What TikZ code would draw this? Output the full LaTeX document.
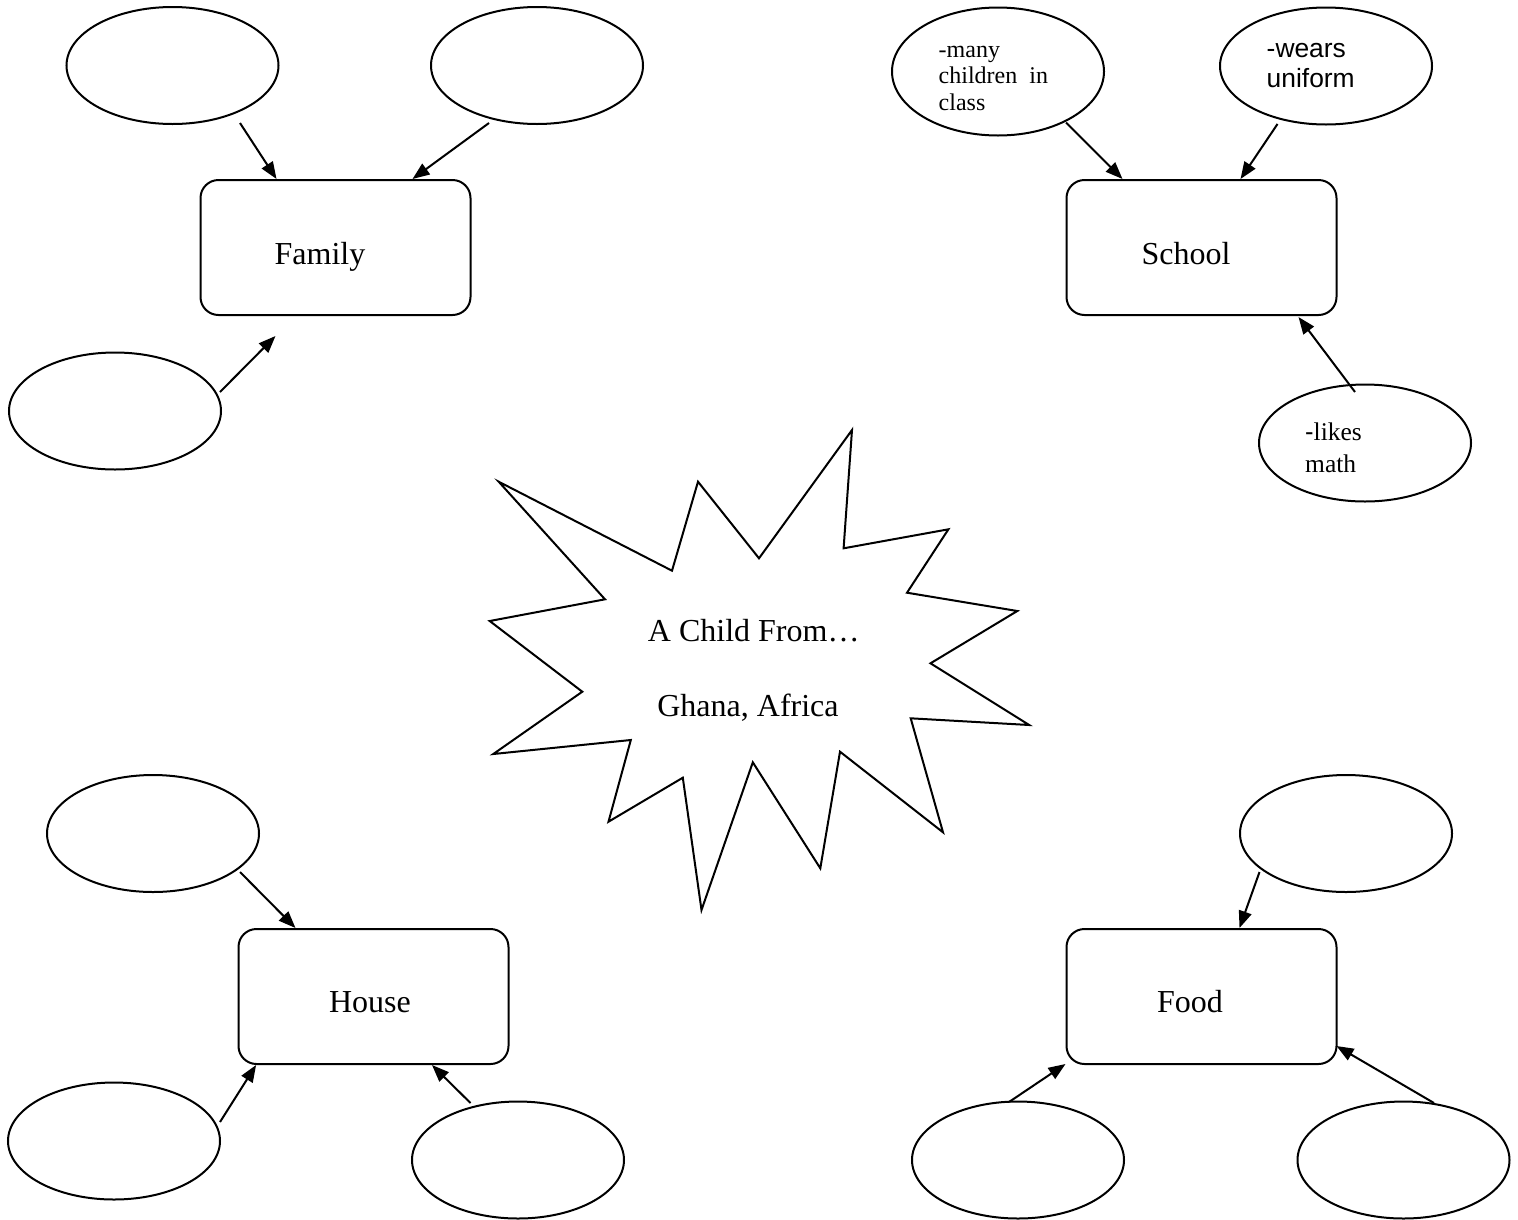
\documentclass[tikz,border=0pt]{standalone}
\usepackage{fontspec}
\setmainfont{Liberation Serif}
\newfontfamily\arialf{Liberation Sans}
\usetikzlibrary{shapes.geometric,arrows.meta,calc}
\tikzset{
  bubble/.style={ellipse, draw, line width=2pt, minimum width=212pt, minimum height=117pt, inner sep=0pt},
  topic/.style={draw, rounded corners=18pt, line width=2pt, minimum width=270pt, minimum height=135pt, inner sep=0pt},
  conn/.style={line width=2pt, -{Triangle[length=17pt,width=13pt]}},
  biglbl/.style={inner sep=0pt, anchor=base, font=\fontsize{32}{38}\selectfont},
  notelbl/.style={inner sep=0pt, anchor=base west},
  burst/.style={draw, line width=2pt, line join=miter}
}
\begin{document}
\begin{tikzpicture}[x=1pt,y=-1pt]
\useasboundingbox (0,0) rectangle (1518,1219);
\fill[white] (0,0) rectangle (1518,1219);

% ---------- Family ----------
\node[topic] (fam) at (335.5,247.5) {};
\node[biglbl] (famt) at (320,264) {Family};
\node[bubble] (fTL) at (172.5,65.5) {};
\node[bubble] (fTR) at (537,65.5) {};
\node[bubble] (fBL) at (115,411) {};
\draw[conn] ($(fTL.center)+(67.5,57.5)$) -- ($(fam.north west)+(77,0)$);
\draw[conn] ($(fTR.center)+(-48,57.5)$) -- ($(fam.north west)+(213,0)$);
\draw[conn] ($(fBL.center)+(105,-19)$) -- ($(fam.south west)+(76,20)$);

% ---------- School ----------
\node[topic] (sch) at (1201.5,247.5) {};
\node[biglbl] (scht) at (1186,264) {School};
\node[bubble, minimum height=128pt] (sTL) at (998,71.5) {};
\node[bubble] (sTR) at (1326,66) {};
\node[bubble] (sBR) at (1365,443) {};
\node[notelbl] (sTLt) at (938.5,57) {\fontsize{24}{26.5}\selectfont\vtop{\hbox{-many}\hbox{children\ \ in}\hbox{class}}};
\node[notelbl] (sTRt) at (1266.5,57) {\arialf\fontsize{26.4}{30.5}\selectfont\vtop{\hbox{-wears}\hbox{uniform}}};
\node[notelbl] (sBRt) at (1305,440) {\fontsize{25.5}{32}\selectfont\vtop{\hbox{{\arialf -}likes}\hbox{math}}};
\draw[conn] ($(sTL.center)+(68,51)$) -- ($(sch.north west)+(57,0)$);
\draw[conn] ($(sTR.center)+(-48.5,58)$) -- ($(sch.north west)+(175,0)$);
\draw[conn] ($(sBR.center)+(-10,-51)$) -- ($(sch.south west)+(233,1)$);

% ---------- Centre burst ----------
\draw[burst] (498.7,481.7) -- (672,570.7) -- (698,481.7) -- (759,558.3) -- (852,430)
  -- (843.6,548.3) -- (948.4,529.3) -- (907,592.7) -- (1017.3,611) -- (930.5,663.3)
  -- (1029.2,725) -- (910.7,718.3) -- (943,832.3) -- (840,751.7) -- (820.3,868.3)
  -- (752.8,762.3) -- (701.5,910) -- (682.8,777.7) -- (608.5,821.7) -- (630.8,740)
  -- (493.3,754) -- (582.3,691.7) -- (489.7,621) -- (605,599.3) -- cycle;
\node[biglbl] (title1) at (753.7,641.7) {A Child From…};
\node[biglbl] (title2) at (748,716) {Ghana, Africa};

% ---------- House ----------
\node[topic] (house) at (373.5,996.5) {};
\node[biglbl] (houset) at (370,1012) {House};
\node[bubble] (hTL) at (153,833.5) {};
\node[bubble] (hBL) at (114,1141) {};
\node[bubble] (hBR) at (518,1160) {};
\draw[conn] ($(hTL.center)+(87,38.5)$) -- ($(house.north west)+(58,0)$);
\draw[conn] ($(hBL.center)+(106,-19)$) -- ($(house.south west)+(18.6,0)$);
\draw[conn] ($(hBR.center)+(-47.5,-57)$) -- ($(house.south west)+(194.5,0)$);

% ---------- Food ----------
\node[topic] (food) at (1201.5,996.5) {};
\node[biglbl] (foodt) at (1190,1012) {Food};
\node[bubble] (dTR) at (1346,833.5) {};
\node[bubble] (dBL) at (1018,1160) {};
\node[bubble] (dBR) at (1403.5,1160) {};
\draw[conn] ($(dTR.center)+(-86.5,38.5)$) -- ($(food.north west)+(174,0)$);
\draw[conn] ($(dBL.center)+(-9,-58)$) -- ($(food.south west)+(0,-1)$);
\draw[conn] ($(dBR.center)+(30.5,-57)$) -- ($(food.south east)+(-1,-19)$);
\end{tikzpicture}
\end{document}
